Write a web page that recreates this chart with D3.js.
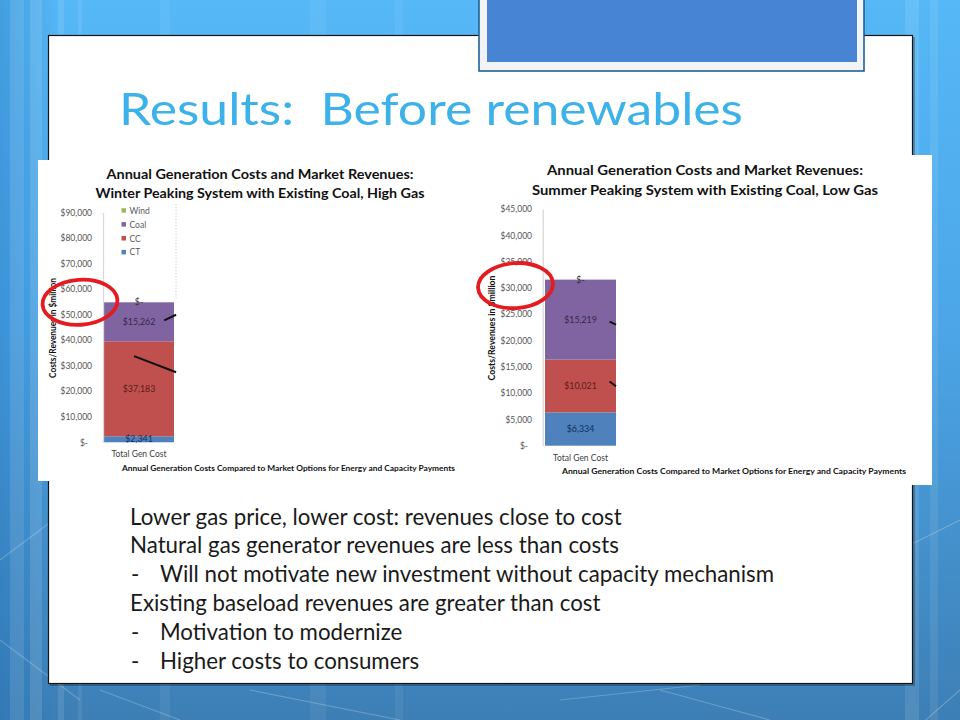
<!DOCTYPE html>
<html>
<head>
<meta charset="utf-8">
<script src="https://cdn.jsdelivr.net/npm/d3@7"></script>
<style>
  html, body { margin: 0; padding: 0; background: #4a9ee0; }
  svg { display: block; }
</style>
</head>
<body>
<svg id="slide" width="960" height="720"></svg>
<script>
// ---------------- DATA ----------------
const seriesNames = ["CT", "CC", "Coal", "Wind"];
const legendOrder = ["Wind", "Coal", "CC", "CT"];
const categories = ["Total Gen Cost"];
const winterValues = [2341, 37183, 15262, 0];   // CT, CC, Coal, Wind
const summerValues = [6334, 10021, 15219, 0];   // CT, CC, Coal, Wind
const winterTicks = [0, 10000, 20000, 30000, 40000, 50000, 60000, 70000, 80000, 90000];
const summerTicks = [0, 5000, 10000, 15000, 20000, 25000, 30000, 35000, 40000, 45000];
const winterTitle = ["Annual Generation Costs and Market Revenues:", "Winter Peaking System with Existing Coal, High Gas"];
const summerTitle = ["Annual Generation Costs and Market Revenues:", "Summer Peaking System with Existing Coal, Low Gas"];
const xAxisTitle = "Annual Generation Costs Compared to Market Options for Energy and Capacity Payments";
const yAxisTitle = "Costs/Revenues in $million";
const slideTitle = "Results:  Before renewables";
const bullets = [
  {dash: false, text: "Lower gas price, lower cost: revenues close to cost"},
  {dash: false, text: "Natural gas generator revenues are less than costs"},
  {dash: true,  text: "Will not motivate new investment without capacity mechanism"},
  {dash: false, text: "Existing baseload revenues are greater than cost"},
  {dash: true,  text: "Motivation to modernize"},
  {dash: true,  text: "Higher costs to consumers"}
];

// ---------------- STYLE ----------------
const fill = {CT: "#4f81bd", CC: "#c0504d", Coal: "#8064a2", Wind: "#9bbb59"};
const labelColor = {CT: "#12305a", CC: "#5a1d1b", Coal: "#352848", Wind: "#333333"};
const chartFont = "Lato, 'Open Sans', sans-serif";

const svg = d3.select("#slide");

// ---------------- BACKGROUND ----------------
const defs = svg.append("defs");
const bg = defs.append("linearGradient").attr("id", "bg").attr("x1", 0).attr("y1", 0).attr("x2", 0).attr("y2", 1);
bg.append("stop").attr("offset", "0%").attr("stop-color", "#56b8f6");
bg.append("stop").attr("offset", "45%").attr("stop-color", "#4ca6e8");
bg.append("stop").attr("offset", "100%").attr("stop-color", "#3d7fb5");
svg.append("rect").attr("width", 960).attr("height", 720).attr("fill", "url(#bg)");
const bgLeft = defs.append("linearGradient").attr("id", "bgl").attr("x1", 0).attr("y1", 0).attr("x2", 1).attr("y2", 0);
bgLeft.append("stop").attr("offset", "0%").attr("stop-color", "#1f6fb8").attr("stop-opacity", 0.35);
bgLeft.append("stop").attr("offset", "100%").attr("stop-color", "#1f6fb8").attr("stop-opacity", 0);
svg.append("rect").attr("width", 60).attr("height", 720).attr("fill", "url(#bgl)");

const stripes = [[10, 14, 0.10], [30, 12, 0.12], [58, 6, 0.10], [78, 4, 0.08], [160, 10, 0.06], [310, 16, 0.06], [395, 8, 0.06], [905, 14, 0.10], [930, 8, 0.08]];
svg.append("g").selectAll("rect").data(stripes).join("rect")
  .attr("x", d => d[0]).attr("y", 0).attr("width", d => d[1]).attr("height", 720)
  .attr("fill", "#ffffff").attr("opacity", d => d[2]);
const faint = [[0, 560, 120, 470], [0, 640, 80, 700], [250, 690, 400, 720], [560, 700, 700, 685], [880, 560, 960, 520], [880, 760, 960, 690], [100, 690, 180, 720], [660, 690, 770, 720]];
svg.append("g").selectAll("line").data(faint).join("line")
  .attr("x1", d => d[0]).attr("y1", d => d[1]).attr("x2", d => d[2]).attr("y2", d => d[3])
  .attr("stroke", "#ffffff").attr("stroke-opacity", 0.22).attr("stroke-width", 1.2);

// ---------------- PANEL ----------------
svg.append("rect").attr("x", 50).attr("y", 37).attr("width", 865).attr("height", 649).attr("fill", "#000").attr("opacity", 0.25);
svg.append("rect").attr("x", 48.5).attr("y", 35.5).attr("width", 864).attr("height", 648)
  .attr("fill", "#ffffff").attr("stroke", "#151515").attr("stroke-width", 1.2);

// top box
svg.append("rect").attr("x", 479).attr("y", -2).attr("width", 385).attr("height", 73)
  .attr("fill", "#f2f3f6").attr("stroke", "#1e6294").attr("stroke-width", 1.6);
svg.append("rect").attr("x", 487).attr("y", -2).attr("width", 370).attr("height", 64).attr("fill", "#4784d3");

// slide title
svg.append("text").attr("x", 119).attr("y", 125)
  .attr("font-family", "Lato, 'Open Sans', sans-serif").attr("font-weight", 400)
  .attr("font-size", 45).attr("fill", "#3db1ea")
  .attr("textLength", 624).attr("lengthAdjust", "spacingAndGlyphs")
  .style("white-space", "pre").text(slideTitle);

// ---------------- CHARTS ----------------
function fmt(v) { return v === 0 ? "$-" : "$" + d3.format(",")(v); }

function drawChart(cfg) {
  const g = svg.append("g");
  // white chart image background
  g.append("rect").attr("x", cfg.box[0]).attr("y", cfg.box[1]).attr("width", cfg.box[2]).attr("height", cfg.box[3]).attr("fill", "#ffffff");

  const y = d3.scaleLinear().domain([0, cfg.ticks[cfg.ticks.length - 1]]).range(cfg.yRange);
  const x = d3.scaleBand().domain(categories).range(cfg.xRange).padding(0);

  // title
  cfg.title.forEach((t, i) => {
    g.append("text").attr("x", cfg.titleX).attr("y", cfg.titleY[i]).attr("text-anchor", "middle")
      .attr("font-family", chartFont).attr("font-weight", 700).attr("font-size", 12.5).attr("fill", "#111")
      .attr("textLength", cfg.titleW[i]).attr("lengthAdjust", "spacingAndGlyphs").text(t);
  });

  // dotted divider
  if (cfg.dotted) {
    g.append("line").attr("x1", cfg.xRange[1] + 2).attr("x2", cfg.xRange[1] + 2)
      .attr("y1", y(cfg.ticks[cfg.ticks.length - 1]) - 8).attr("y2", y(cfg.stackTop) - 2)
      .attr("stroke", "#bfbfbf").attr("stroke-dasharray", "1,2").attr("stroke-width", 1);
  }

  // stacked bar
  const row = {cat: categories[0]};
  seriesNames.forEach((s, i) => row[s] = cfg.values[i]);
  const stack = d3.stack().keys(seriesNames)([row]);
  g.append("g").selectAll("rect").data(stack).join("rect")
    .attr("x", x(categories[0])).attr("width", x.bandwidth())
    .attr("y", d => y(d[0][1])).attr("height", d => y(d[0][0]) - y(d[0][1]))
    .attr("fill", d => fill[d.key]);

  // axis
  const axis = d3.axisLeft(y).tickValues(cfg.ticks).tickSize(0).tickPadding(cfg.pad).tickFormat(fmt);
  const ax = g.append("g").attr("transform", `translate(${cfg.axisX},0)`).call(axis);
  ax.select(".domain").attr("stroke", "#d9d9d9").attr("stroke-width", 1.3);
  ax.selectAll("text").attr("font-family", chartFont).attr("font-size", 8.5).attr("fill", "#555555")
    .attr("dx", d => d === 0 ? -4 : 0);

  // labels
  g.append("g").selectAll("text").data(stack).join("text")
    .attr("x", x(categories[0]) + x.bandwidth() / 2)
    .attr("y", d => (y(d[0][0]) + y(d[0][1])) / 2 + 3)
    .attr("text-anchor", "middle").attr("font-family", chartFont).attr("font-size", 8.8)
    .attr("fill", d => labelColor[d.key]).text(d => fmt(d[0][1] - d[0][0]));

  // category label
  g.append("text").attr("x", x(categories[0]) + x.bandwidth() / 2).attr("y", cfg.catY)
    .attr("text-anchor", "middle").attr("font-family", chartFont).attr("font-size", 8.5).attr("fill", "#404040")
    .text(categories[0]);

  // x axis title
  g.append("text").attr("x", cfg.xTitle[0]).attr("y", cfg.xTitle[1])
    .attr("font-family", chartFont).attr("font-weight", 700).attr("font-size", 8).attr("fill", "#111")
    .attr("textLength", cfg.xTitle[2]).attr("lengthAdjust", "spacingAndGlyphs").text(xAxisTitle);

  // y axis title
  g.append("text").attr("transform", `translate(${cfg.yTitle[0]},${cfg.yTitle[1]}) rotate(-90)`)
    .attr("text-anchor", "middle").attr("font-family", chartFont).attr("font-weight", 700).attr("font-size", 8.5).attr("fill", "#111")
    .attr("textLength", cfg.yTitle[2]).attr("lengthAdjust", "spacingAndGlyphs").text(yAxisTitle);

  // legend
  if (cfg.legend) {
    const lg = g.append("g");
    legendOrder.forEach((s, i) => {
      const ly = cfg.legend[1] + i * 13.9;
      lg.append("rect").attr("x", cfg.legend[0]).attr("y", ly - 2.5).attr("width", 4.5).attr("height", 4.5).attr("fill", fill[s]);
      lg.append("text").attr("x", cfg.legend[0] + 8).attr("y", ly + 3).attr("font-family", chartFont)
        .attr("font-size", 8.5).attr("fill", "#595959").text(s);
    });
  }

  // connector annotation lines (in data units: band fraction, value)
  g.append("g").selectAll("line").data(cfg.connectors).join("line")
    .attr("x1", d => x(categories[0]) + d[0] * x.bandwidth()).attr("y1", d => y(d[1]))
    .attr("x2", d => x(categories[0]) + d[2] * x.bandwidth()).attr("y2", d => y(d[3]))
    .attr("stroke", "#111").attr("stroke-width", 2);

  // red highlight ellipse around the total
  g.append("ellipse").attr("cx", cfg.ellipse[0]).attr("cy", y(cfg.stackTop) + cfg.ellipse[1])
    .attr("rx", cfg.ellipse[2]).attr("ry", cfg.ellipse[3])
    .attr("transform", `rotate(-4 ${cfg.ellipse[0]} ${y(cfg.stackTop) + cfg.ellipse[1]})`)
    .attr("fill", "none").attr("stroke", "#e41b20").attr("stroke-width", 3.8);
}

drawChart({
  box: [38, 160, 422, 321],
  values: winterValues, ticks: winterTicks, stackTop: d3.sum(winterValues),
  yRange: [442.3, 212.3], xRange: [104, 174], axisX: 103, pad: 11,
  title: winterTitle, titleX: 260, titleY: [179, 198], titleW: [307, 329],
  dotted: true, catY: 457, xTitle: [122, 470.5, 333], yTitle: [55.5, 328, 100],
  legend: [121.5, 210.7],
  connectors: [[0.86, 47700, 1.03, 49900], [0.43, 33700, 1.03, 27400]],
  ellipse: [80, 0, 37.5, 22.5]
});

drawChart({
  box: [470, 155, 462, 330],
  values: summerValues, ticks: summerTicks, stackTop: d3.sum(summerValues),
  yRange: [445.7, 209], xRange: [545, 616], axisX: 542.7, pad: 10.7,
  title: summerTitle, titleX: 705, titleY: [174.5, 194.5], titleW: [316, 346],
  dotted: false, catY: 461, xTitle: [562, 474, 344], yTitle: [494.5, 328, 105],
  legend: null,
  connectors: [[0.91, 23600, 1.0, 23000], [0.91, 12200, 1.0, 11300]],
  ellipse: [515.5, 6, 37.5, 22.5]
});

// ---------------- BULLETS ----------------
const bl = svg.append("g").attr("font-family", "Lato, 'Open Sans', sans-serif").attr("font-size", 22.3).attr("fill", "#1a1a1a");
bullets.forEach((b, i) => {
  const by = 524.5 + i * 28.8;
  if (b.dash) bl.append("text").attr("x", 131).attr("y", by).text("-");
  bl.append("text").attr("x", b.dash ? 160 : 130).attr("y", by).text(b.text);
});
</script>
</body>
</html>
